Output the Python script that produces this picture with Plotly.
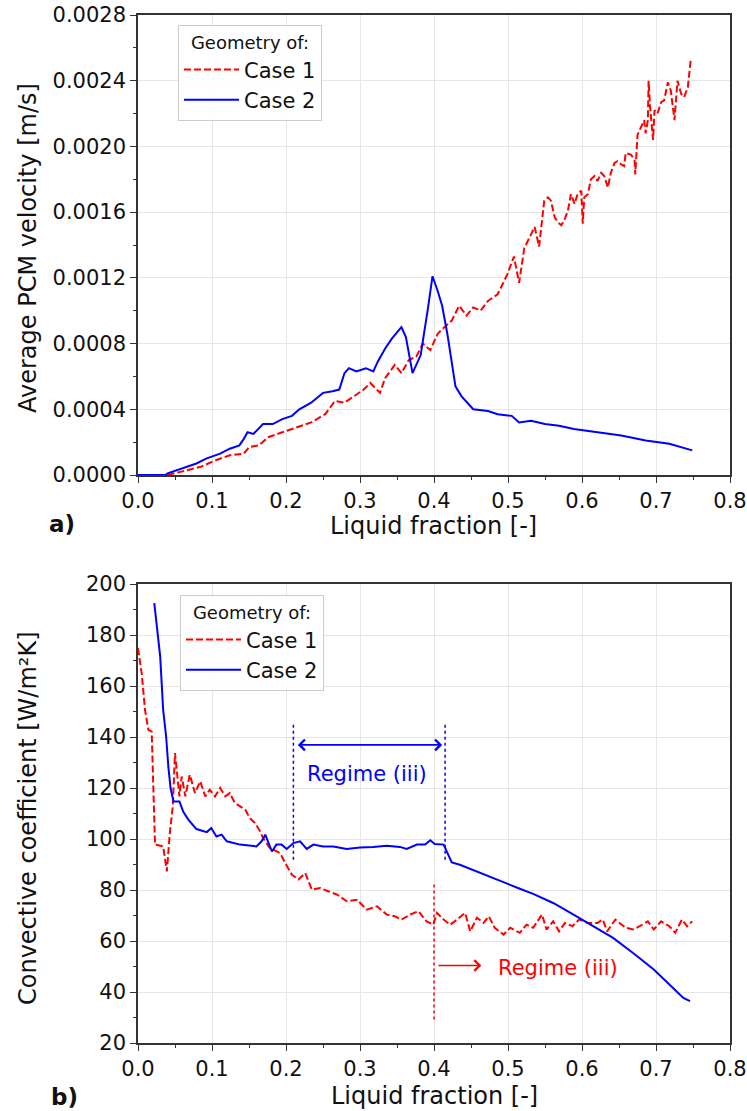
import plotly.graph_objects as go

# ---------------- data: panel a) average PCM velocity ----------------
a_case1_x = [0.040, 0.059, 0.085, 0.105, 0.124, 0.143, 0.150, 0.163, 0.176, 0.195, 0.214, 0.234,
             0.253, 0.266, 0.279, 0.292, 0.305, 0.314, 0.327, 0.334, 0.347, 0.356, 0.366, 0.376,
             0.385, 0.395, 0.405, 0.414, 0.424, 0.434, 0.444, 0.453, 0.463, 0.473, 0.486, 0.499,
             0.508, 0.515, 0.522, 0.536, 0.542, 0.549, 0.554, 0.558, 0.563, 0.567, 0.572, 0.576,
             0.581, 0.585, 0.590, 0.594, 0.599, 0.601, 0.603, 0.608, 0.612, 0.617, 0.621, 0.626,
             0.630, 0.635, 0.639, 0.644, 0.648, 0.653, 0.657, 0.659, 0.666, 0.671, 0.672, 0.675,
             0.680, 0.684, 0.686, 0.689, 0.690, 0.692, 0.696, 0.698, 0.702, 0.707, 0.711, 0.716,
             0.720, 0.725, 0.729, 0.734, 0.738, 0.743, 0.747]
a_case1_y = [0.0, 0.2, 0.5, 0.9, 1.2, 1.3, 1.7, 1.8, 2.3, 2.6, 2.9, 3.2,
             3.7, 4.5, 4.4, 4.8, 5.2, 5.6, 5.0, 5.9, 6.7, 6.2, 7.0, 7.2,
             8.0, 7.6, 8.6, 9.0, 9.4, 10.3, 9.7, 10.2, 10.0, 10.6, 11.0, 12.2,
             13.3, 11.7, 13.8, 15.1, 13.9, 16.7, 16.9, 16.7, 15.7, 15.4, 15.2, 15.5,
             16.1, 17.1, 16.5, 17.1, 17.3, 15.3, 16.9, 17.1, 18.0, 18.2, 17.9, 18.4,
             18.2, 17.5, 18.4, 19.0, 19.1, 18.9, 18.8, 19.6, 19.5, 19.2, 18.3, 20.7,
             21.2, 21.6, 20.8, 21.6, 24.0, 22.4, 20.4, 22.2, 22.0, 22.7, 22.8, 23.9,
             23.4, 21.6, 24.0, 23.2, 23.0, 23.6, 25.3]
a_case1_y = [v * 1e-4 for v in a_case1_y]

a_case2_x = [0.0, 0.037, 0.040, 0.059, 0.079, 0.092, 0.111, 0.124, 0.137, 0.143, 0.148, 0.156,
             0.169, 0.182, 0.195, 0.208, 0.218, 0.234, 0.250, 0.263, 0.272, 0.279, 0.285, 0.295,
             0.308, 0.318, 0.324, 0.334, 0.343, 0.356, 0.362, 0.371, 0.382, 0.392, 0.398, 0.405,
             0.411, 0.418, 0.424, 0.429, 0.437, 0.453, 0.473, 0.486, 0.505, 0.515, 0.531, 0.550,
             0.569, 0.589, 0.621, 0.653, 0.686, 0.718, 0.749]
a_case2_y = [0.0, 0.0, 0.1, 0.4, 0.7, 1.0, 1.3, 1.6, 1.8, 2.2, 2.6, 2.5,
             3.1, 3.1, 3.4, 3.6, 4.0, 4.4, 5.0, 5.1, 5.2, 6.2, 6.5, 6.3,
             6.5, 6.3, 6.9, 7.7, 8.3, 9.0, 8.4, 6.2, 7.3, 10.2, 12.1, 11.2,
             10.3, 8.6, 6.8, 5.4, 4.8, 4.0, 3.9, 3.7, 3.6, 3.2, 3.3, 3.1,
             3.0, 2.8, 2.6, 2.4, 2.1, 1.9, 1.5]
a_case2_y = [v * 1e-4 for v in a_case2_y]

# ---------------- data: panel b) convective coefficient ----------------
b_case1_x = [0.000, 0.005, 0.0095, 0.014, 0.0185, 0.021, 0.023, 0.034, 0.039, 0.043, 0.047, 0.050,
             0.053, 0.056, 0.059, 0.064, 0.070, 0.077, 0.084, 0.091, 0.097, 0.104, 0.111, 0.118,
             0.124, 0.131, 0.138, 0.145, 0.151, 0.158, 0.165, 0.169, 0.178, 0.187, 0.192, 0.199,
             0.208, 0.217, 0.226, 0.235, 0.246, 0.257, 0.269, 0.282, 0.296, 0.309, 0.323, 0.336,
             0.347, 0.356, 0.368, 0.379, 0.390, 0.399, 0.404, 0.413, 0.422, 0.431, 0.442, 0.449,
             0.458, 0.467, 0.474, 0.482, 0.494, 0.503, 0.516, 0.525, 0.534, 0.546, 0.552, 0.561,
             0.569, 0.577, 0.587, 0.596, 0.608, 0.621, 0.628, 0.634, 0.645, 0.659, 0.669, 0.678,
             0.689, 0.697, 0.707, 0.718, 0.726, 0.735, 0.742, 0.749]
b_case1_y = [174.8, 165.0, 150.6, 142.8, 142.1, 115.4, 97.8, 97.1, 87.3, 102.3, 112.8, 133.7,
             125.8, 116.7, 124.5, 116.7, 125.2, 118.0, 122.6, 116.7, 119.3, 116.7, 120.0, 116.7,
             118.0, 114.1, 112.8, 111.5, 108.2, 106.3, 103.0, 100.4, 96.5, 95.1, 94.5, 90.6,
             86.0, 84.1, 86.7, 80.1, 80.8, 79.5, 78.2, 75.6, 76.2, 72.3, 73.6, 70.4,
             69.7, 68.4, 70.4, 71.7, 67.7, 66.4, 71.0, 68.4, 66.4, 68.4, 71.0, 63.8,
             69.1, 67.1, 69.7, 65.2, 62.5, 65.2, 63.2, 66.4, 65.2, 70.4, 64.5, 67.7,
             63.8, 67.1, 65.8, 68.4, 67.1, 67.1, 68.4, 63.8, 68.4, 65.2, 64.5, 65.8,
             67.7, 64.5, 67.7, 65.8, 63.2, 68.4, 65.8, 67.7]

b_case2_x = [0.022, 0.030, 0.034, 0.038, 0.041, 0.044, 0.048, 0.056, 0.061, 0.068, 0.079, 0.093,
             0.099, 0.106, 0.113, 0.120, 0.138, 0.160, 0.167, 0.172, 0.181, 0.187, 0.194, 0.201,
             0.210, 0.219, 0.228, 0.237, 0.250, 0.264, 0.282, 0.300, 0.318, 0.336, 0.354, 0.363,
             0.377, 0.388, 0.395, 0.401, 0.413, 0.417, 0.424, 0.435, 0.462, 0.489, 0.516, 0.534,
             0.561, 0.588, 0.615, 0.642, 0.669, 0.697, 0.723, 0.737, 0.746]
b_case2_y = [192.5, 171.5, 150.6, 140.2, 128.4, 120.0, 114.7, 114.7, 110.8, 107.6, 103.9, 102.7,
             104.3, 101.0, 101.7, 99.1, 97.8, 97.1, 99.1, 101.7, 95.1, 97.8, 97.8, 96.1,
             98.4, 99.1, 96.1, 97.8, 97.1, 97.1, 96.1, 96.7, 96.9, 97.4, 96.9, 96.1,
             97.8, 97.8, 99.5, 98.0, 97.8, 95.1, 90.8, 89.9, 86.7, 83.6, 80.5, 78.5,
             74.9, 70.4, 65.8, 61.2, 55.3, 48.8, 41.6, 37.7, 36.4]

# annotation anchors (data units of panel b)
blue_regime_x = [0.210, 0.415]
blue_regime_y = [91.9, 145.7]
blue_arrow = {"x0": 0.214, "x1": 0.411, "y": 136.9}
blue_text = {"x": 0.309, "y": 125.3}
red_regime_x = 0.400
red_regime_y = [29.2, 82.8]
red_arrow = {"x0": 0.404, "x1": 0.464, "y": 50.4}
red_text = {"x": 0.567, "y": 49.5}

RED = "#ff0000"
BLUE = "#0000ff"
FONT = "DejaVu Sans"
W, H = 747, 1111

fig = go.Figure()
dash = "7px,3px"
fig.add_trace(go.Scatter(x=a_case1_x, y=a_case1_y, mode="lines", name="Case 1",
                         line=dict(color=RED, width=2, dash=dash), xaxis="x", yaxis="y", legend="legend"))
fig.add_trace(go.Scatter(x=a_case2_x, y=a_case2_y, mode="lines", name="Case 2",
                         line=dict(color=BLUE, width=2), xaxis="x", yaxis="y", legend="legend"))
fig.add_trace(go.Scatter(x=b_case1_x, y=b_case1_y, mode="lines", name="Case 1",
                         line=dict(color=RED, width=2, dash=dash), xaxis="x2", yaxis="y2", legend="legend2"))
fig.add_trace(go.Scatter(x=b_case2_x, y=b_case2_y, mode="lines", name="Case 2",
                         line=dict(color=BLUE, width=2), xaxis="x2", yaxis="y2", legend="legend2"))

xdom = [138 / W, 730 / W]
top_dom = [1 - 475 / H, 1 - 15 / H]
bot_dom = [1 - 1043 / H, 1 - 584 / H]

axis_common = dict(showline=True, mirror=True, linecolor="#333", linewidth=1.5,
                   ticks="outside", ticklen=6, tickwidth=1.2, tickcolor="#333",
                   showgrid=True, gridcolor="#e6e6e6", gridwidth=1, zeroline=False,
                   automargin=False,
                   tickfont=dict(family=FONT, size=21, color="#111"))

legend_common = dict(xanchor="left", yanchor="top",
                     bgcolor="rgba(255,255,255,0.9)", bordercolor="#cccccc", borderwidth=1,
                     font=dict(family=FONT, size=21, color="#111"),
                     title=dict(text="Geometry of:", side="top center",
                                font=dict(family=FONT, size=18, color="#111")),
                     itemwidth=55, tracegroupgap=0)

fig.update_layout(
    width=W, height=H, margin=dict(l=0, r=0, t=0, b=0, autoexpand=False),
    paper_bgcolor="white", plot_bgcolor="white",
    font=dict(family=FONT, color="#111"),
    xaxis=dict(domain=xdom, anchor="y", range=[0, 0.8], dtick=0.1, tickformat=".1f",
               minor=dict(ticks="outside", ticklen=3, dtick=0.05, tickcolor="#333", showgrid=False),
               **axis_common),
    yaxis=dict(domain=top_dom, anchor="x", range=[0, 0.0028], dtick=0.0004, tickformat=".4f",
               minor=dict(ticks="outside", ticklen=3, dtick=0.0002, tickcolor="#333", showgrid=False),
               **axis_common),
    xaxis2=dict(domain=xdom, anchor="y2", range=[0, 0.8], dtick=0.1, tickformat=".1f",
                minor=dict(ticks="outside", ticklen=3, dtick=0.05, tickcolor="#333", showgrid=False),
                **axis_common),
    yaxis2=dict(domain=bot_dom, anchor="x2", range=[20, 200], dtick=20,
                minor=dict(ticks="outside", ticklen=3, dtick=10, tickcolor="#333", showgrid=False),
                **axis_common),
    legend=dict(x=178 / W, y=1 - 25 / H, **legend_common),
    legend2=dict(x=180 / W, y=1 - 595 / H, **legend_common),
)

# axis titles & panel letters
TITLE = dict(family=FONT, size=24, color="#111")
ann = []
def pa(text, px, py, angle=0, font=TITLE):
    return dict(text=text, x=px / W, y=1 - py / H, xref="paper", yref="paper",
                xanchor="center", yanchor="middle", showarrow=False, textangle=angle, font=font)

ann.append(pa("Liquid fraction [-]", 433, 526))
ann.append(pa("Liquid fraction [-]", 434, 1096))
ann.append(pa("Average PCM velocity [m/s]", 28, 248, -90))
ann.append(pa("Convective coefficient [W/m²K]", 28, 818, -90))
ann.append(pa("<b>a)</b>", 62, 524, 0, dict(family=FONT, size=23, color="#111")))
ann.append(pa("<b>b)</b>", 64, 1097, 0, dict(family=FONT, size=23, color="#111")))

# regime annotations
ann.append(dict(x=blue_arrow["x1"], y=blue_arrow["y"], ax=blue_arrow["x0"], ay=blue_arrow["y"],
                xref="x2", yref="y2", axref="x2", ayref="y2", text="", showarrow=True,
                arrowhead=4, startarrowhead=4, arrowside="end+start", arrowsize=1.3, arrowwidth=1.6,
                arrowcolor=BLUE))
ann.append(dict(x=blue_text["x"], y=blue_text["y"], xref="x2", yref="y2", text="Regime (iii)",
                xanchor="center", yanchor="middle",
                showarrow=False, font=dict(family=FONT, size=21, color=BLUE)))
ann.append(dict(x=red_arrow["x1"], y=red_arrow["y"], ax=red_arrow["x0"], ay=red_arrow["y"],
                xref="x2", yref="y2", axref="x2", ayref="y2", text="", showarrow=True,
                arrowhead=4, arrowsize=1.3, arrowwidth=1.6, arrowcolor=RED))
ann.append(dict(x=red_text["x"], y=red_text["y"], xref="x2", yref="y2", text="Regime (iii)",
                xanchor="center", yanchor="middle",
                showarrow=False, font=dict(family=FONT, size=21, color=RED)))
fig.update_layout(annotations=ann)

shapes = []
for xv in blue_regime_x:
    shapes.append(dict(type="line", xref="x2", yref="y2", x0=xv, x1=xv, y0=blue_regime_y[0], y1=blue_regime_y[1],
                       line=dict(color=BLUE, width=1.5, dash="dot")))
shapes.append(dict(type="line", xref="x2", yref="y2", x0=red_regime_x, x1=red_regime_x,
                   y0=red_regime_y[0], y1=red_regime_y[1], line=dict(color=RED, width=1.5, dash="dot")))
fig.update_layout(shapes=shapes)

fig.write_html("out.html")
